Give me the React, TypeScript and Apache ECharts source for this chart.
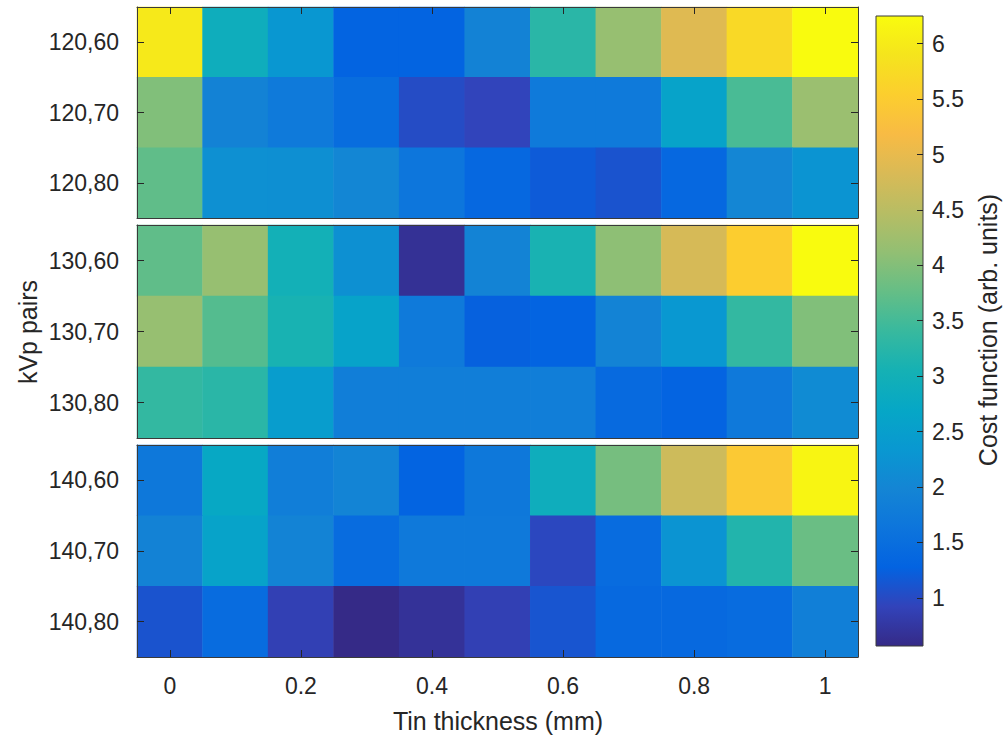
import React, { useEffect, useRef } from "react";
import * as echarts from "echarts";

// ---- data ----
const thickness = ["0", "0.1", "0.2", "0.3", "0.4", "0.5", "0.6", "0.7", "0.8", "0.9", "1"];
const group120 = ["120,60", "120,70", "120,80"];
const group130 = ["130,60", "130,70", "130,80"];
const group140 = ["140,60", "140,70", "140,80"];

const r120_60 = [5.97, 2.9, 2.33, 1.29, 1.29, 1.92, 3.27, 4.17, 4.9, 5.71, 6.25];
const r120_70 = [3.98, 1.92, 1.74, 1.47, 1.02, 0.93, 1.74, 1.74, 2.6, 3.54, 4.2];
const r120_80 = [3.72, 2.19, 2.17, 2.01, 1.65, 1.38, 1.19, 1.1, 1.38, 2.0, 2.27];
const r130_60 = [3.72, 4.17, 3.0, 2.2, 0.66, 1.95, 3.09, 4.09, 4.8, 5.53, 6.25];
const r130_70 = [4.17, 3.63, 3.08, 2.6, 1.74, 1.25, 1.29, 1.95, 2.35, 3.36, 3.98];
const r130_80 = [3.36, 3.27, 2.46, 1.83, 1.83, 1.83, 1.82, 1.41, 1.3, 1.72, 2.1];
const r140_60 = [1.7, 2.73, 1.83, 1.96, 1.29, 1.7, 2.9, 3.9, 4.7, 5.44, 6.15];
const r140_70 = [1.92, 2.6, 1.95, 1.45, 1.72, 1.72, 0.97, 1.45, 2.27, 3.18, 3.8];
const r140_80 = [1.1, 1.45, 0.88, 0.565, 0.68, 0.88, 1.12, 1.4, 1.4, 1.45, 1.85];

const colorbarTicks = [1, 1.5, 2, 2.5, 3, 3.5, 4, 4.5, 5, 5.5, 6];
const cMin = 0.565;
const cMax = 6.25;

// ---- style ----
const PARULA = [
  "#352a87", "#3243ba", "#0363e1", "#0d75dc", "#1485d4", "#0998d1",
  "#06a7c6", "#15b1b4", "#38b99e", "#65be86", "#92bf73", "#b7bd64",
  "#d9ba56", "#f8bb44", "#fcce2e", "#f5e41d", "#f9fb0e",
];
const FONT = "'Liberation Sans', Arial, sans-serif";
const TXT = "#262626";
const LINE = "#3a3a3a";
const TICK_FS = 23;
const TITLE_FS = 25;
const GRID_LEFT = 137;
const GRID_W = 721;
const TOPS = [7, 225, 445];
const HEIGHTS = [211, 213, 212];

const groups = [
  { rows: group120, vals: [r120_60, r120_70, r120_80] },
  { rows: group130, vals: [r130_60, r130_70, r130_80] },
  { rows: group140, vals: [r140_60, r140_70, r140_80] },
];

export default function App() {
  const ref = useRef<HTMLDivElement>(null);
  useEffect(() => {
    if (!ref.current) return;
    const chart = echarts.init(ref.current, undefined, { renderer: "svg" });

    const grid: any[] = [];
    const xAxis: any[] = [];
    const yAxis: any[] = [];
    const series: any[] = [];

    groups.forEach((g, gi) => {
      grid.push({ left: GRID_LEFT, top: TOPS[gi], width: GRID_W, height: HEIGHTS[gi] });
      const common = {
        type: "category",
        gridIndex: gi,
        z: 5,
        splitLine: { show: false },
        axisLine: { show: true, onZero: false, lineStyle: { color: LINE, width: 1 } },
      };
      xAxis.push({
        ...common,
        data: thickness,
        position: "bottom",
        axisTick: {
          show: gi === 2, inside: true, alignWithLabel: true, interval: 1, length: 7,
          lineStyle: { color: TXT },
        },
        axisLabel: {
          show: gi === 2, interval: 1, margin: 17, fontSize: TICK_FS, color: TXT, fontFamily: FONT,
        },
      });
      xAxis.push({
        ...common,
        data: thickness,
        position: "top",
        axisTick: {
          show: gi === 0, inside: true, alignWithLabel: true, interval: 1, length: 7,
          lineStyle: { color: TXT },
        },
        axisLabel: { show: false },
      });
      yAxis.push({
        ...common,
        data: g.rows,
        inverse: true,
        position: "left",
        axisTick: { show: true, inside: true, alignWithLabel: true, length: 7, lineStyle: { color: TXT } },
        axisLabel: { show: true, margin: 18, fontSize: TICK_FS, color: TXT, fontFamily: FONT },
      });
      yAxis.push({
        ...common,
        data: g.rows,
        inverse: true,
        position: "right",
        axisTick: { show: true, inside: true, alignWithLabel: true, length: 7, lineStyle: { color: TXT } },
        axisLabel: { show: false },
      });
      const data: number[][] = [];
      g.vals.forEach((row, ri) => row.forEach((v, ci) => data.push([ci, ri, v])));
      series.push({
        type: "heatmap",
        xAxisIndex: gi * 2,
        yAxisIndex: gi * 2,
        data,
        emphasis: { disabled: true },
        itemStyle: { borderWidth: 0 },
      });
    });

    const cbLeft = 876, cbTop = 16, cbW = 47, cbH = 630;
    grid.push({ left: cbLeft, top: cbTop, width: cbW, height: cbH });
    xAxis.push({ type: "category", gridIndex: 3, data: ["c"], show: false });
    yAxis.push({
      type: "value",
      gridIndex: 3,
      position: "right",
      min: cMin,
      max: cMax,
      z: 5,
      splitLine: { show: false },
      axisLine: { show: false },
      axisTick: {
        show: true, inside: true, length: 6, customValues: colorbarTicks,
        lineStyle: { color: TXT },
      },
      axisLabel: {
        show: true, margin: 9, fontSize: TICK_FS, color: TXT, fontFamily: FONT,
        customValues: colorbarTicks,
      },
    });
    series.push({ type: "scatter", xAxisIndex: 6, yAxisIndex: 6, data: [] });

    const stops = PARULA.map((c, i) => ({ offset: i / (PARULA.length - 1), color: c }));

    chart.setOption({
      animation: false,
      backgroundColor: "#ffffff",
      grid,
      xAxis,
      yAxis,
      series,
      visualMap: {
        type: "continuous",
        show: false,
        min: cMin,
        max: cMax,
        seriesIndex: [0, 1, 2],
        inRange: { color: PARULA },
      },
      graphic: [
        {
          type: "rect",
          shape: { x: cbLeft, y: cbTop, width: cbW, height: cbH },
          style: {
            fill: new echarts.graphic.LinearGradient(0, 1, 0, 0, stops),
            stroke: LINE,
            lineWidth: 1,
          },
          z: 1,
        },
        {
          type: "text",
          x: 28,
          y: 332,
          rotation: Math.PI / 2,
          style: {
            text: "kVp pairs", fill: TXT, fontSize: TITLE_FS, fontFamily: FONT,
            align: "center", verticalAlign: "middle",
          },
        },
        {
          type: "text",
          x: 498,
          y: 721,
          style: {
            text: "Tin thickness (mm)", fill: TXT, fontSize: TITLE_FS, fontFamily: FONT,
            align: "center", verticalAlign: "middle",
          },
        },
        {
          type: "text",
          x: 988,
          y: 330,
          rotation: Math.PI / 2,
          style: {
            text: "Cost function (arb. units)", fill: TXT, fontSize: TITLE_FS, fontFamily: FONT,
            align: "center", verticalAlign: "middle",
          },
        },
      ],
    });
    return () => chart.dispose();
  }, []);
  return (
    <div
      ref={ref}
      style={{ position: "fixed", left: 0, top: 0, width: 1008, height: 740 }}
    />
  );
}
